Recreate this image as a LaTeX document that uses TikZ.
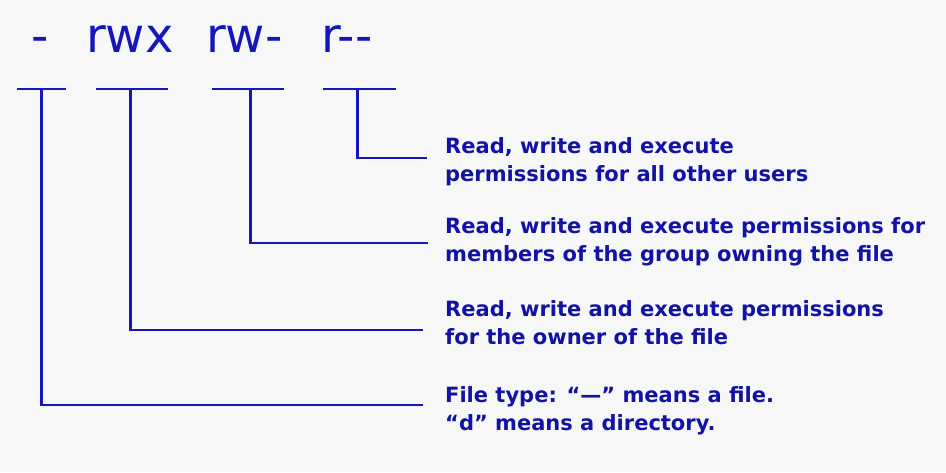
\documentclass[tikz,border=0pt]{standalone}
\usepackage{fontspec}
\setmainfont{DejaVu Sans}
\newfontfamily\descfont{DejaVu Sans Bold}
\definecolor{bgc}{RGB}{247,247,247}
\definecolor{linec}{RGB}{22,22,190}
\definecolor{textc}{RGB}{18,18,165}
\tikzset{
  toplabel/.style={anchor=base west, inner sep=0pt, text=linec, font=\fontsize{48}{52}\selectfont},
  desc/.style={anchor=base west, inner sep=0pt, align=left, text=textc, font=\descfont\fontsize{21}{28}\selectfont},
  conn/.style={draw=linec, line width=2.4pt},
}
\begin{document}
\begin{tikzpicture}[x=1pt,y=-1pt]
\fill[bgc] (0,0) rectangle (946,472);
\useasboundingbox (0,0) rectangle (946,472);
% top labels
\node[toplabel] (t0) at (31,52) {-};
\node[toplabel] (t1) at (86,52) {rwx};
\node[toplabel] (t2) at (206,52) {rw-};
\node[toplabel] (t3) at (321,52) {r-{}-};
% underline centres
\coordinate (u0) at (41.5,89);
\coordinate (u1) at (130.5,89);
\coordinate (u2) at (250.5,89);
\coordinate (u3) at (357.5,89);
\draw[conn] (17,89) -- (66,89);
\draw[conn] (96,89) -- (168,89);
\draw[conn] (212,89) -- (284,89);
\draw[conn] (323,89) -- (396,89);
% descriptions (base = baseline of the last line)
\node[desc] (d3) at (445,181) {Read, write and execute\\permissions for all other users};
\node[desc] (d2) at (445,261) {Read, write and execute permissions for\\members of the group owning the file};
\node[desc] (d1) at (445,344) {Read, write and execute permissions\\for the owner of the file};
\node[desc] (d0) at (445,430) {File type: “—” means a file.\\“d” means a directory.};
% connector ends
\coordinate (e3) at (427,158);
\coordinate (e2) at (428,243);
\coordinate (e1) at (423,330);
\coordinate (e0) at (423,405);
\draw[conn] (u3) |- (e3);
\draw[conn] (u2) |- (e2);
\draw[conn] (u1) |- (e1);
\draw[conn] (u0) |- (e0);
\end{tikzpicture}
\end{document}
